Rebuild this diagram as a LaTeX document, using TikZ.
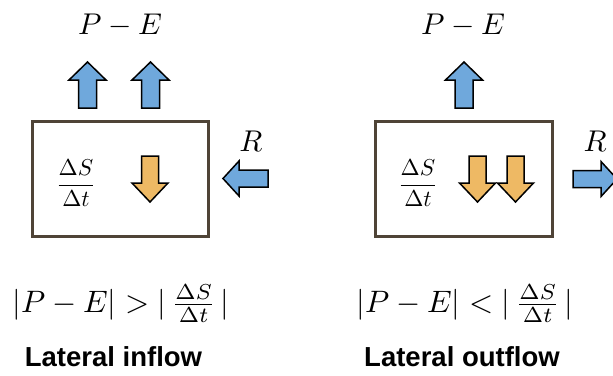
\documentclass[tikz,border=0pt]{standalone}
\usepackage{fontspec}
\newfontfamily\arialfont{Liberation Sans}
\definecolor{bluefill}{HTML}{6FA8DC}
\definecolor{orangefill}{HTML}{EEB964}
\definecolor{boxline}{HTML}{4F4437}
\tikzset{
  pics/blk/.style n args={4}{code={\draw[pic actions] (0,0) -- (#3,#2) -- (#4,#2) -- (#4,#1) -- (-#4,#1) -- (-#4,#2) -- (-#3,#2) -- cycle;}},
  arrowline/.style={draw=black, line width=1.5pt, line join=miter},
  bluearr/.style={arrowline, fill=bluefill},
  orangearr/.style={arrowline, fill=orangefill},
  storebox/.style={draw=boxline, line width=3pt},
  bigmath/.style={font=\fontsize{10}{12}\selectfont, scale=3, inner sep=0pt},
  boxmath/.style={font=\fontsize{10}{12}\selectfont, scale=2.3, inner sep=0pt},
  relmath/.style={font=\fontsize{10}{12}\selectfont, scale=3.1, inner sep=0pt},
  caption/.style={font=\arialfont\bfseries\fontsize{27.5}{32}\selectfont, inner sep=0pt},
}
\begin{document}
\begin{tikzpicture}[x=1pt, y=-1pt]
\clip (0,0) rectangle (613,375);
\fill[white] (0,0) rectangle (613,375);
% left panel
\node[storebox, minimum width=176pt, minimum height=115pt, inner sep=0pt] (boxL) at (120,178.5) {};
\node[bigmath] (peL) at (120,25) {$P-E$};
\node[boxmath] (dsL) at (76,183) {$\displaystyle\frac{\Delta S}{\Delta t}$};
\node[bigmath] (rL) at (251,141) {$R$};
\pic[bluearr] at (87.5,62) {blk={46}{18}{18.5}{9}};
\pic[bluearr] at (150.5,62) {blk={46}{18}{18.5}{9}};
\pic[orangearr, rotate=180] at (150,202) {blk={46}{19}{18}{8.5}};
\pic[bluearr, rotate=90] at (223,178.5) {blk={45}{16}{17.5}{8.5}};
\node[relmath] (relL) at (121,304) {$|P-E|>|\,\frac{\Delta S}{\Delta t}\,|$};
\node[caption] (capL) at (113.5,357) {Lateral inflow};
% right panel
\node[storebox, minimum width=177pt, minimum height=115pt, inner sep=0pt] (boxR) at (463.5,178.5) {};
\node[bigmath] (peR) at (463,25) {$P-E$};
\node[boxmath] (dsR) at (418,183) {$\displaystyle\frac{\Delta S}{\Delta t}$};
\node[bigmath] (rR) at (595,141) {$R$};
\pic[bluearr] at (464,62) {blk={46}{18}{18.5}{9}};
\pic[orangearr, rotate=180] at (477.5,202) {blk={46}{19}{18}{8.5}};
\pic[orangearr, rotate=180] at (515.5,202) {blk={46}{19}{18}{8.5}};
\pic[bluearr, rotate=-90] at (617,179) {blk={44}{16}{17.5}{8.5}};
\node[relmath] (relR) at (465,304) {$|P-E|<|\,\frac{\Delta S}{\Delta t}\,|$};
\node[caption] (capR) at (462,357) {Lateral outflow};
\end{tikzpicture}
\end{document}
